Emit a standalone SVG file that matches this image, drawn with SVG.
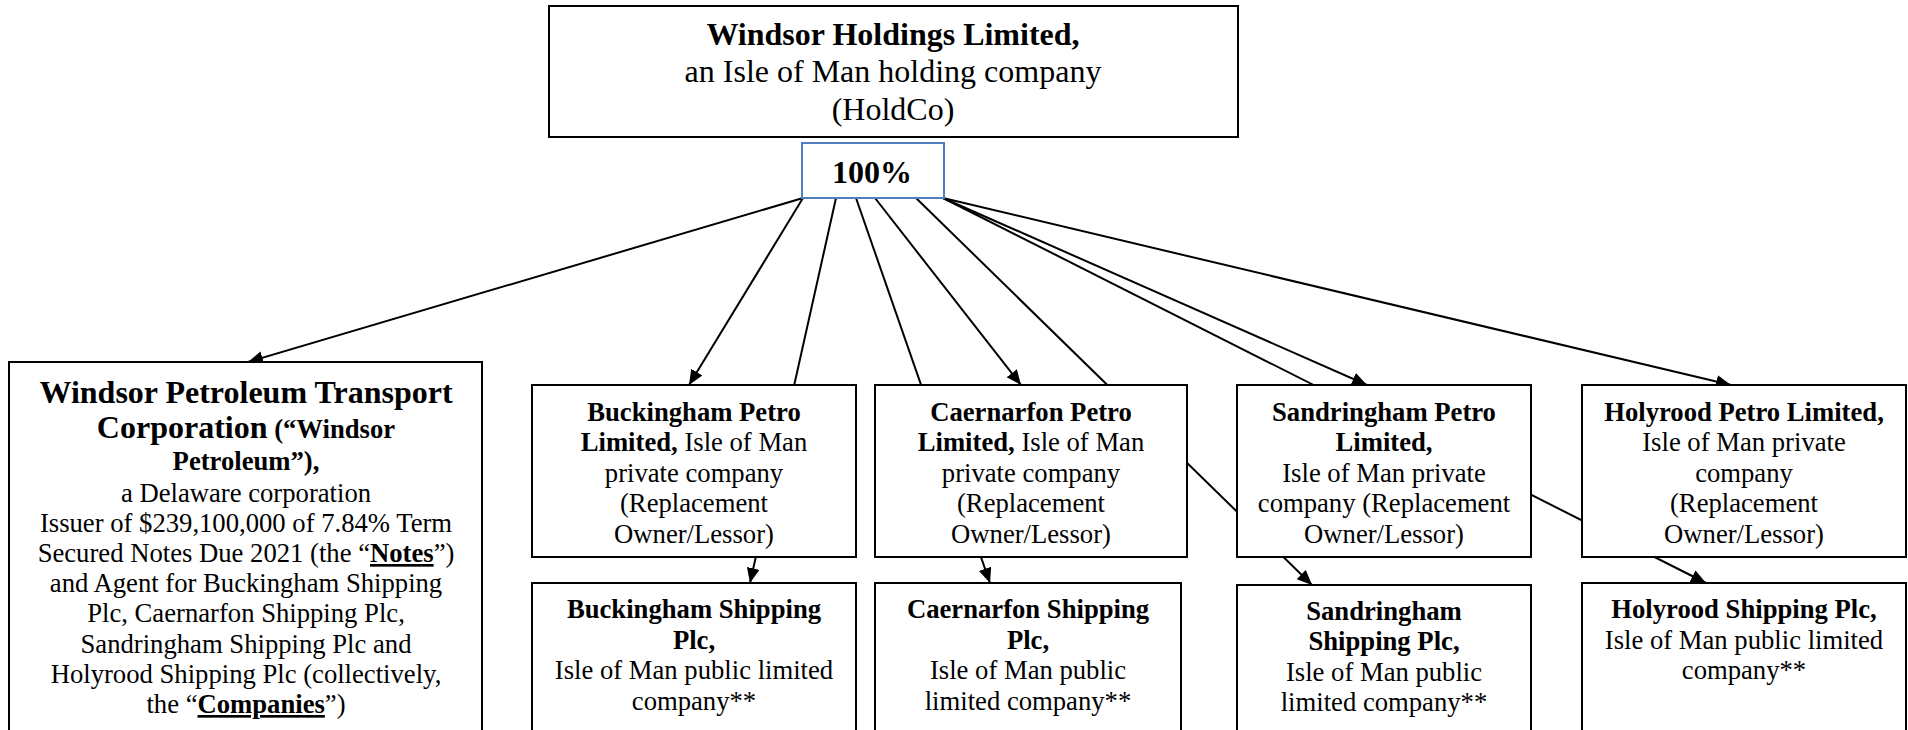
<svg xmlns="http://www.w3.org/2000/svg" width="1908" height="730" viewBox="0 0 1908 730">
<style>
.box{fill:#fff;stroke:#000;stroke-width:2}
.pct{fill:#fff;stroke:#4f7fbf;stroke-width:2}
.t{font-family:"Liberation Serif","Times New Roman",serif;font-size:26.67px;fill:#000;text-anchor:middle}
.big{font-size:32px}
.b{font-weight:bold}
.u{text-decoration:underline}
.c{fill:none;stroke:#000;stroke-width:2}
</style>
<defs>
<marker id="ah" markerUnits="userSpaceOnUse" markerWidth="16" markerHeight="14" refX="15" refY="6.5" orient="auto">
<path d="M0,0 L15,6.5 L0,13 z" fill="#000"/>
</marker>
</defs>
<rect width="1908" height="730" fill="#fff"/>
<g id="connectors">
<line class="c" x1="803" y1="198" x2="248" y2="362" marker-end="url(#ah)"/>
<line class="c" x1="803" y1="198" x2="689" y2="385" marker-end="url(#ah)"/>
<line class="c" x1="836" y1="198" x2="750" y2="583" marker-end="url(#ah)"/>
<line class="c" x1="856" y1="198" x2="990" y2="583" marker-end="url(#ah)"/>
<line class="c" x1="875" y1="198" x2="1021" y2="385" marker-end="url(#ah)"/>
<line class="c" x1="916" y1="198" x2="1312" y2="585" marker-end="url(#ah)"/>
<line class="c" x1="943" y1="198" x2="1367" y2="385" marker-end="url(#ah)"/>
<line class="c" x1="943" y1="198" x2="1706" y2="583" marker-end="url(#ah)"/>
<line class="c" x1="943" y1="198" x2="1731" y2="385" marker-end="url(#ah)"/>
</g>
<g id="holdco">
<rect class="box" x="549" y="6" width="689" height="131"/>
<text class="t big b" x="893" y="45">Windsor Holdings Limited,</text>
<text class="t big" x="893" y="82">an Isle of Man holding company</text>
<text class="t big" x="893" y="120">(HoldCo)</text>
</g>
<g id="pct">
<rect class="pct" x="802" y="143" width="142" height="55"/>
<text class="t big b" x="872" y="183">100%</text>
</g>
<g id="windsor-petroleum">
<rect class="box" x="9" y="362" width="473" height="380"/>
<text class="t big b" x="246" y="403">Windsor Petroleum Transport</text>
<text class="t b" x="246" y="438"><tspan class="big">Corporation</tspan> (“Windsor</text>
<text class="t b" x="246" y="470">Petroleum”),</text>
<text class="t" x="246" y="502">a Delaware corporation</text>
<text class="t" x="246" y="532">Issuer of $239,100,000 of 7.84% Term</text>
<text class="t" x="246" y="562">Secured Notes Due 2021 (the “<tspan class="b u">Notes</tspan>”)</text>
<text class="t" x="246" y="592">and Agent for Buckingham Shipping</text>
<text class="t" x="246" y="622">Plc, Caernarfon Shipping Plc,</text>
<text class="t" x="246" y="653">Sandringham Shipping Plc and</text>
<text class="t" x="246" y="683">Holyrood Shipping Plc (collectively,</text>
<text class="t" x="246" y="713">the “<tspan class="b u">Companies</tspan>”)</text>
</g>
<g id="buckingham-petro">
<rect class="box" x="532" y="385" width="324" height="172"/>
<text class="t b" x="694" y="421">Buckingham Petro</text>
<text class="t" x="694" y="451"><tspan class="b">Limited,</tspan> Isle of Man</text>
<text class="t" x="694" y="482">private company</text>
<text class="t" x="694" y="512">(Replacement</text>
<text class="t" x="694" y="543">Owner/Lessor)</text>
</g>
<g id="caernarfon-petro">
<rect class="box" x="875" y="385" width="312" height="172"/>
<text class="t b" x="1031" y="421">Caernarfon Petro</text>
<text class="t" x="1031" y="451"><tspan class="b">Limited,</tspan> Isle of Man</text>
<text class="t" x="1031" y="482">private company</text>
<text class="t" x="1031" y="512">(Replacement</text>
<text class="t" x="1031" y="543">Owner/Lessor)</text>
</g>
<g id="sandringham-petro">
<rect class="box" x="1237" y="385" width="294" height="172"/>
<text class="t b" x="1384" y="421">Sandringham Petro</text>
<text class="t b" x="1384" y="451">Limited,</text>
<text class="t" x="1384" y="482">Isle of Man private</text>
<text class="t" x="1384" y="512">company (Replacement</text>
<text class="t" x="1384" y="543">Owner/Lessor)</text>
</g>
<g id="holyrood-petro">
<rect class="box" x="1582" y="385" width="324" height="172"/>
<text class="t b" x="1744" y="421">Holyrood Petro Limited,</text>
<text class="t" x="1744" y="451">Isle of Man private</text>
<text class="t" x="1744" y="482">company</text>
<text class="t" x="1744" y="512">(Replacement</text>
<text class="t" x="1744" y="543">Owner/Lessor)</text>
</g>
<g id="buckingham-shipping">
<rect class="box" x="532" y="583" width="324" height="160"/>
<text class="t b" x="694" y="618">Buckingham Shipping</text>
<text class="t b" x="694" y="649">Plc,</text>
<text class="t" x="694" y="679">Isle of Man public limited</text>
<text class="t" x="694" y="710">company**</text>
</g>
<g id="caernarfon-shipping">
<rect class="box" x="875" y="583" width="306" height="160"/>
<text class="t b" x="1028" y="618">Caernarfon Shipping</text>
<text class="t b" x="1028" y="649">Plc,</text>
<text class="t" x="1028" y="679">Isle of Man public</text>
<text class="t" x="1028" y="710">limited company**</text>
</g>
<g id="sandringham-shipping">
<rect class="box" x="1237" y="585" width="294" height="160"/>
<text class="t b" x="1384" y="620">Sandringham</text>
<text class="t b" x="1384" y="650">Shipping Plc,</text>
<text class="t" x="1384" y="681">Isle of Man public</text>
<text class="t" x="1384" y="711">limited company**</text>
</g>
<g id="holyrood-shipping">
<rect class="box" x="1582" y="583" width="324" height="160"/>
<text class="t b" x="1744" y="618">Holyrood Shipping Plc,</text>
<text class="t" x="1744" y="649">Isle of Man public limited</text>
<text class="t" x="1744" y="679">company**</text>
</g>
</svg>
